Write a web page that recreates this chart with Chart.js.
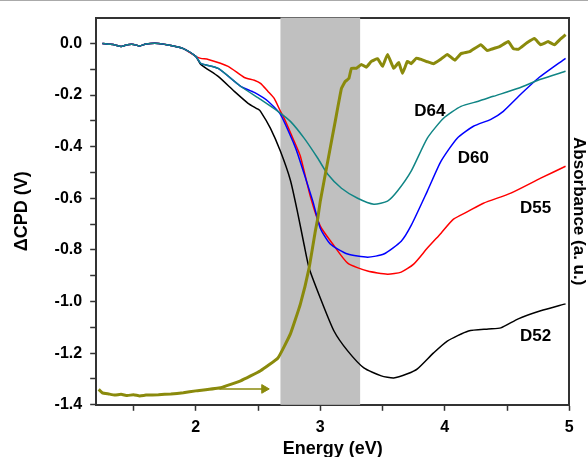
<!DOCTYPE html>
<html>
<head>
<meta charset="utf-8">
<script src="https://cdn.jsdelivr.net/npm/chart.js@4.4.1/dist/chart.umd.min.js"></script>
<style>
  body { margin: 0; background: #fff; }
  #topline { position: absolute; left: 0; top: 0; width: 588px; height: 1px; background: #aaa; }
</style>
</head>
<body>
<div id="topline"></div>
<canvas id="chart" width="588" height="457"></canvas>
<script>
// ---- data ----
const headE = [1.25, 1.3, 1.35, 1.4, 1.45, 1.5, 1.55, 1.6, 1.7, 1.8, 1.9, 2.0];
const headV = [0, -0.003, -0.006, -0.012, -0.005, -0.004, -0.01, -0.002, 0, -0.008, -0.02, -0.05];

const d52E = [2.04, 2.18, 2.31, 2.42, 2.5, 2.52, 2.6, 2.68, 2.76, 2.82, 2.87, 2.91, 3.0, 3.11, 3.22, 3.35, 3.49, 3.59, 3.7, 3.78, 3.91, 4.02, 4.19, 4.35, 4.45, 4.59, 4.77, 4.97];
const d52V = [-0.081, -0.128, -0.186, -0.232, -0.255, -0.263, -0.329, -0.418, -0.53, -0.66, -0.78, -0.87, -0.986, -1.114, -1.191, -1.257, -1.288, -1.296, -1.28, -1.261, -1.199, -1.153, -1.114, -1.106, -1.102, -1.067, -1.036, -1.009];

const d55E = [2.04, 2.1, 2.26, 2.39, 2.47, 2.52, 2.58, 2.63, 2.68, 2.71, 2.79, 2.84, 2.92, 3.0, 3.1, 3.22, 3.38, 3.54, 3.65, 3.75, 3.86, 3.97, 4.07, 4.19, 4.31, 4.53, 4.77, 4.97];
const d55V = [-0.058, -0.062, -0.089, -0.132, -0.143, -0.155, -0.186, -0.213, -0.263, -0.29, -0.379, -0.437, -0.592, -0.708, -0.777, -0.851, -0.882, -0.894, -0.886, -0.855, -0.793, -0.735, -0.681, -0.65, -0.619, -0.58, -0.522, -0.476];

const d60E = [2.04, 2.18, 2.36, 2.47, 2.58, 2.68, 2.79, 2.82, 2.94, 3.0, 3.08, 3.22, 3.38, 3.51, 3.65, 3.73, 3.86, 3.97, 4.1, 4.23, 4.37, 4.47, 4.61, 4.75, 4.97];
const d60V = [-0.077, -0.097, -0.166, -0.19, -0.224, -0.275, -0.391, -0.43, -0.611, -0.716, -0.777, -0.816, -0.828, -0.816, -0.766, -0.705, -0.572, -0.456, -0.367, -0.321, -0.294, -0.263, -0.197, -0.135, -0.058];

const d64E = [2.04, 2.18, 2.36, 2.52, 2.66, 2.76, 2.87, 2.98, 3.06, 3.17, 3.3, 3.43, 3.54, 3.62, 3.73, 3.86, 3.99, 4.13, 4.27, 4.39, 4.59, 4.77, 4.97];
const d64V = [-0.077, -0.097, -0.166, -0.217, -0.263, -0.302, -0.367, -0.445, -0.507, -0.561, -0.6, -0.623, -0.611, -0.572, -0.495, -0.367, -0.29, -0.244, -0.224, -0.205, -0.174, -0.139, -0.108];

// absorbance, arbitrary units (right axis, 0 at bottom, 1 at top)
const absE = [1.22, 1.25, 1.3, 1.35, 1.4, 1.45, 1.5, 1.55, 1.6, 1.7, 1.8, 1.9, 2.0, 2.2, 2.36, 2.52, 2.66, 2.76, 2.84, 2.91, 2.96, 2.98, 3.0, 3.06, 3.12, 3.17, 3.2, 3.23, 3.25, 3.29, 3.33, 3.37, 3.41, 3.46, 3.5, 3.54, 3.59, 3.63, 3.66, 3.7, 3.73, 3.77, 3.81, 3.86, 3.91, 3.97, 4.02, 4.08, 4.13, 4.2, 4.29, 4.34, 4.37, 4.44, 4.51, 4.55, 4.59, 4.66, 4.72, 4.77, 4.83, 4.88, 4.93, 4.97];
const absA = [0.04, 0.031, 0.028, 0.025, 0.027, 0.024, 0.026, 0.023, 0.025, 0.026, 0.028, 0.031, 0.036, 0.044, 0.062, 0.088, 0.121, 0.183, 0.26, 0.353, 0.448, 0.482, 0.526, 0.629, 0.732, 0.817, 0.835, 0.843, 0.869, 0.869, 0.879, 0.872, 0.887, 0.894, 0.874, 0.905, 0.869, 0.884, 0.856, 0.887, 0.881, 0.895, 0.892, 0.886, 0.881, 0.893, 0.905, 0.89, 0.907, 0.912, 0.93, 0.915, 0.918, 0.925, 0.938, 0.92, 0.918, 0.935, 0.946, 0.93, 0.938, 0.93, 0.945, 0.956];

const arrowE = [2.19, 2.55];
const arrowA = [0.041, 0.041];

const bandE = [2.68, 3.32];

const labelText = ['D64', 'D60', 'D55', 'D52'];
const labelE = [3.88, 4.23, 4.73, 4.73];
const labelV = [-0.263, -0.445, -0.638, -1.133];

const xTicks = [1.5, 2, 2.5, 3, 3.5, 4, 4.5, 5];
const yTicks = [-1.4, -1.3, -1.2, -1.1, -1.0, -0.9, -0.8, -0.7, -0.6, -0.5, -0.4, -0.3, -0.2, -0.1, 0.0];

const xTitle = 'Energy (eV)';

// ---- helpers ----
const pts = (es, vs) => es.map((e, i) => ({ x: e, y: vs[i] }));
const withHead = (es, vs) => pts(headE.concat(es), headV.concat(vs));

const FONT = 'Liberation Sans, Arial, sans-serif';
const AXIS = '#333';

const bandPlugin = {
    id: 'band',
    beforeDatasetsDraw(chart) {
        const { ctx, chartArea, scales } = chart;
        const x0 = scales.x.getPixelForValue(bandE[0]);
        const x1 = scales.x.getPixelForValue(bandE[1]);
        ctx.save();
        ctx.fillStyle = '#c0c0c0';
        ctx.fillRect(x0, chartArea.top, x1 - x0, chartArea.bottom - chartArea.top);
        ctx.restore();
    }
};

// curve labels + x axis title (placed under the tick labels)
const labelPlugin = {
    id: 'curveLabels',
    afterDatasetsDraw(chart) {
        const { ctx, scales, chartArea } = chart;
        ctx.save();
        ctx.font = 'bold 17px ' + FONT;
        ctx.fillStyle = '#000';
        ctx.textAlign = 'center';
        ctx.textBaseline = 'middle';
        labelText.forEach((t, i) => {
            ctx.fillText(t, scales.x.getPixelForValue(labelE[i]), scales.y.getPixelForValue(labelV[i]));
        });
        ctx.font = 'bold 18px ' + FONT;
        ctx.fillText(xTitle, (chartArea.left + chartArea.right) / 2, chartArea.bottom + 44);
        ctx.restore();
    }
};

const curve = (label, data, color, order) => ({
    label, data, borderColor: color, borderWidth: 1.5,
    pointRadius: 0, tension: 0.2, yAxisID: 'y', order
});

new Chart(document.getElementById('chart'), {
    type: 'line',
    data: {
        datasets: [
            curve('D52', withHead(d52E, d52V), '#000000', 5),
            curve('D55', withHead(d55E, d55V), '#ff0000', 4),
            curve('D60', withHead(d60E, d60V), '#0000ff', 3),
            curve('D64', withHead(d64E, d64V), '#108585', 2),
            {
                label: 'Absorbance', data: pts(absE, absA), borderColor: '#8a8a0c',
                borderWidth: 3, pointRadius: 0, tension: 0.1, yAxisID: 'y2', order: 1
            },
            {
                label: 'arrow', data: pts(arrowE, arrowA), borderColor: '#8a8a0c',
                backgroundColor: '#8a8a0c', borderWidth: 1.5, yAxisID: 'y2', order: 1,
                pointRadius: [0, 5], pointStyle: 'triangle', rotation: 90, pointBorderWidth: 1
            }
        ]
    },
    options: {
        responsive: false,
        animation: false,
        devicePixelRatio: 1,
        layout: { padding: { left: 11, right: 0, top: 14, bottom: 13 } },
        plugins: { legend: { display: false }, tooltip: { enabled: false } },
        scales: {
            x: {
                type: 'linear', min: 1.2, max: 5,
                afterBuildTicks: s => { s.ticks = xTicks.map(v => ({ value: v })); },
                ticks: {
                    color: '#000', font: { family: FONT, size: 16, weight: 'bold' },
                    maxRotation: 0, autoSkip: false, padding: 7,
                    callback: v => Number.isInteger(v) ? String(v) : ''
                },
                grid: { drawOnChartArea: false, tickLength: 6, tickColor: AXIS, tickWidth: 1.5 },
                border: { color: AXIS, width: 2 }
            },
            x2: {
                type: 'linear', position: 'top', min: 1.2, max: 5,
                ticks: { display: false },
                grid: { drawOnChartArea: false, drawTicks: false },
                border: { color: AXIS, width: 2 }
            },
            y: {
                type: 'linear', min: -1.4, max: 0.1,
                afterBuildTicks: s => { s.ticks = yTicks.map(v => ({ value: v })); },
                ticks: {
                    color: '#000', font: { family: FONT, size: 16, weight: 'bold' }, autoSkip: false, padding: 8,
                    callback: v => (Math.round(v * 10) % 2 === 0) ? v.toFixed(1) : ''
                },
                grid: { drawOnChartArea: false, tickLength: 6, tickColor: AXIS, tickWidth: 1.5 },
                border: { color: AXIS, width: 2 },
                title: { display: true, text: '\u0394CPD (V)', color: '#000', font: { family: FONT, size: 18, weight: 'bold' }, padding: { top: 0, bottom: 14 } }
            },
            y2: {
                type: 'linear', position: 'right', min: 0, max: 1,
                ticks: { display: false },
                grid: { drawOnChartArea: false, drawTicks: false },
                border: { color: AXIS, width: 2 },
                title: { display: true, text: 'Absorbance (a. u.)', color: '#000', font: { family: FONT, size: 17, weight: 'bold', lineHeight: 1.1 }, padding: { top: 0, bottom: 0 } }
            }
        }
    },
    plugins: [bandPlugin, labelPlugin]
});
</script>
</body>
</html>
